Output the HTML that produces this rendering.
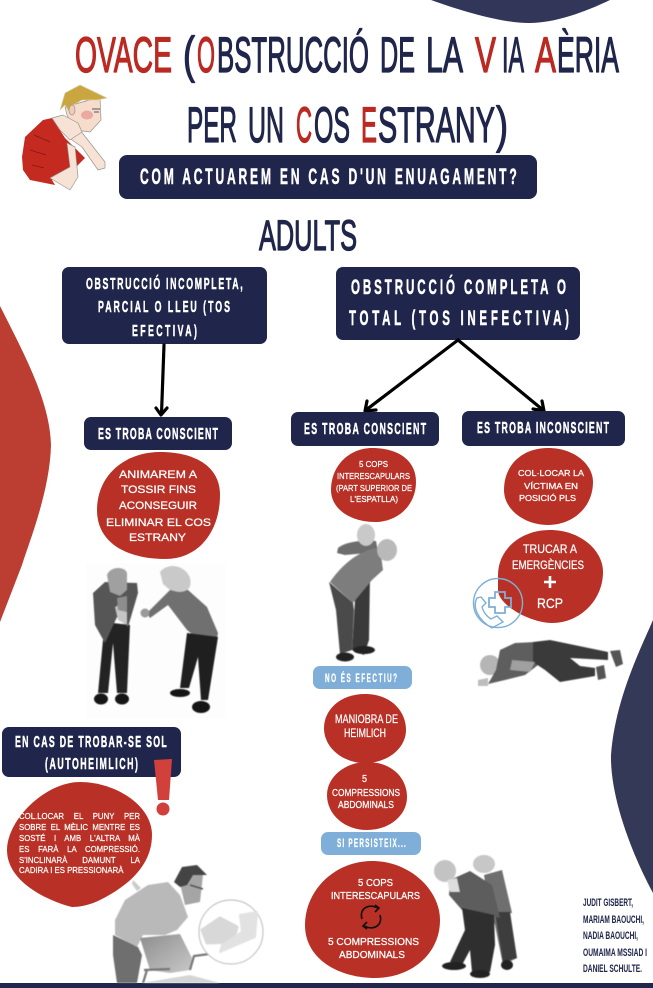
<!DOCTYPE html>
<html><head><meta charset="utf-8"><style>
html,body{margin:0;padding:0;background:#fff}
body{width:653px;height:988px;overflow:hidden;position:relative}
svg{position:absolute;left:0;top:0;filter:blur(.35px)}
text{font-family:"Liberation Sans",sans-serif;font-weight:700;white-space:pre}
.t{font-size:50px;fill:#20264b;font-weight:400;stroke:#20264b;stroke-width:1.300px;stroke-linejoin:round}
.t.r{fill:#bb2a22;stroke:#bb2a22}
.s{font-size:16px;fill:#fff;font-weight:700;stroke:#fff;stroke-width:.5px;stroke-linejoin:round}
.m{font-weight:400;fill:#fff;stroke:#fff;stroke-width:.25px}
.c{font-size:11px;font-weight:700;fill:#20264b}
.just{position:absolute;left:19px;width:121px;font:400 7.800px/10.800px "Liberation Sans",sans-serif;color:#fff;-webkit-text-stroke:.2px #fff;text-align:justify;text-align-last:justify;white-space:nowrap;filter:blur(.25px)}
</style></head><body>
<svg width="653" height="988" viewBox="0 0 653 988" xmlns="http://www.w3.org/2000/svg">
<defs><linearGradient id="ch" x1="0" y1="0" x2="1" y2="1"><stop offset="0" stop-color="#8d8d8d"/><stop offset="1" stop-color="#c8c8c8"/></linearGradient></defs>
<!-- background shapes -->
<path d="M431,0 C470,14 505,23 529,23 C555,23 585,12 610,0Z" fill="#323658"/>
<path d="M0,306 C22,350 50,400 51,445 C50,490 30,540 22,565 L0,622Z" fill="#bc3d32"/>
<path d="M653,620 C640,650 615,700 611,755 C610,800 635,860 653,893Z" fill="#353958"/>
<rect x="0" y="983" width="653" height="5" fill="#22264a"/>

<!-- title -->
<text class="t r" x="75" y="72" textLength="97" lengthAdjust="spacingAndGlyphs">OVACE</text>
<text class="t" x="183" y="72" textLength="12" lengthAdjust="spacingAndGlyphs">(</text>
<text class="t r" x="197" y="72" textLength="18" lengthAdjust="spacingAndGlyphs">O</text>
<text class="t" x="217" y="72" textLength="152" lengthAdjust="spacingAndGlyphs">BSTRUCCIÓ</text>
<text class="t" x="380" y="72" textLength="35" lengthAdjust="spacingAndGlyphs">DE</text>
<text class="t" x="426" y="72" textLength="37" lengthAdjust="spacingAndGlyphs">LA</text>
<text class="t r" x="475" y="72" textLength="21" lengthAdjust="spacingAndGlyphs">V</text>
<text class="t" x="502" y="72" textLength="22" lengthAdjust="spacingAndGlyphs">IA</text>
<text class="t r" x="535" y="72" textLength="21" lengthAdjust="spacingAndGlyphs">A</text>
<text class="t" x="557" y="72" textLength="62" lengthAdjust="spacingAndGlyphs">ÈRIA</text>
<text class="t" x="187" y="142" textLength="50" lengthAdjust="spacingAndGlyphs">PER</text>
<text class="t" x="248" y="142" textLength="36" lengthAdjust="spacingAndGlyphs">UN</text>
<text class="t r" x="296" y="142" textLength="16" lengthAdjust="spacingAndGlyphs">C</text>
<text class="t" x="314" y="142" textLength="36" lengthAdjust="spacingAndGlyphs">OS</text>
<text class="t r" x="361" y="142" textLength="16" lengthAdjust="spacingAndGlyphs">E</text>
<text class="t" x="378" y="142" textLength="117" lengthAdjust="spacingAndGlyphs">STRANY</text>
<text class="t" x="496" y="142" textLength="12" lengthAdjust="spacingAndGlyphs">)</text>

<!-- choking man -->
<g stroke="#9a948e" stroke-width=".7" stroke-linejoin="round">
<path d="M22,157 L25,137 L43,120 L52,118 L65,138 L85,158 L73,170 L52,180 L55,185 L30,180 L23,170Z" fill="#c42a20" stroke="none"/>
<path d="M34,135 L50,142 M30,150 L46,155 M32,165 L44,168" stroke="#7d1a14" fill="none"/>
<path d="M50,178 L70,190 L78,177 L75,147 L67,143 L70,167Z" fill="#f7e3d6"/>
<path d="M65,135 L80,130 L105,162 L105,168 L98,170 L82,147Z" fill="#f7e3d6"/>
<path d="M65,107 L100,97 L101,120 L90,132 L75,130 L67,115Z" fill="#f6dccb"/>
<path d="M52,118 L63,115 L78,123 L82,132 L70,140 L60,130Z" fill="#f7e3d6"/>
<path d="M60,110 L65,93 L80,85 L107,98 L97,100 L82,100 L73,105 L70,113 L65,105Z" fill="#c9a63f" stroke="#d8d0b0"/>
<ellipse cx="72" cy="110" rx="3" ry="5" fill="#f0cdb8"/>
</g>
<ellipse cx="87" cy="115" rx="6" ry="4.500" fill="#eba9a2"/>
<path d="M92,109 L100,109 M94,112 L99,112" stroke="#555" stroke-width="1"/>

<!-- subtitle -->
<rect x="119" y="155" width="418" height="44" rx="8" fill="#20264b"/>
<text class="s" style="font-size:22px" transform="translate(140 184) scale(.55 1)" textLength="685" lengthAdjust="spacing">COM ACTUAREM EN CAS D'UN ENUAGAMENT?</text>
<text class="t" style="font-size:43px" x="259" y="250" textLength="98" lengthAdjust="spacingAndGlyphs">ADULTS</text>

<!-- top boxes -->
<rect x="62" y="267" width="205" height="77" rx="7" fill="#20264b"/>
<text class="s" transform="translate(86 289) scale(.55 1)" textLength="285" lengthAdjust="spacing">OBSTRUCCIÓ INCOMPLETA,</text>
<text class="s" transform="translate(98 312) scale(.55 1)" textLength="240" lengthAdjust="spacing">PARCIAL O LLEU (TOS</text>
<text class="s" transform="translate(132 336) scale(.55 1)" textLength="118" lengthAdjust="spacing">EFECTIVA)</text>
<rect x="336" y="267" width="244" height="73" rx="7" fill="#20264b"/>
<text class="s" style="font-size:21px" transform="translate(351 294) scale(.55 1)" textLength="391" lengthAdjust="spacing">OBSTRUCCIÓ COMPLETA O</text>
<text class="s" style="font-size:21px" transform="translate(349 325) scale(.55 1)" textLength="400" lengthAdjust="spacing">TOTAL (TOS INEFECTIVA)</text>

<!-- arrows -->
<g stroke="#000" stroke-width="3.200" fill="none" stroke-linecap="round" stroke-linejoin="round">
<path d="M164,345 L161.500,414 M156,408 L161,415 L167,408"/>
<path d="M458,340 L366,410 M367,401 L365,411 L376,410"/>
<path d="M458,340 L543,410 M533,409 L544,411 L542,401"/>
</g>

<!-- condition boxes -->
<rect x="84" y="417" width="148" height="33" rx="7" fill="#20264b"/>
<text class="s" transform="translate(98 439) scale(.55 1)" textLength="218" lengthAdjust="spacing">ES TROBA CONSCIENT</text>
<rect x="291" y="412" width="148" height="34" rx="7" fill="#20264b"/>
<text class="s" transform="translate(304 434) scale(.55 1)" textLength="222" lengthAdjust="spacing">ES TROBA CONSCIENT</text>
<rect x="462" y="411" width="163" height="35" rx="7" fill="#20264b"/>
<text class="s" transform="translate(477 433) scale(.55 1)" textLength="240" lengthAdjust="spacing">ES TROBA INCONSCIENT</text>

<!-- red blobs -->
<g fill="#b93126">
<path d="M160,452 C193,452 220,465 220,495 C220,530 200,559 165,559 C130,559 97,545 97,510 C97,475 125,452 160,452Z"/>
<path d="M372,448 C398,448 416,460 416,482 C416,505 398,522 375,522 C352,522 331,510 331,490 C331,465 350,448 372,448Z"/>
<path d="M548,448 C575,448 593,465 593,482 C593,508 572,525 548,525 C525,525 504,510 504,490 C504,465 522,448 548,448Z"/>
<path d="M550,530 C580,530 603,550 603,572 C603,600 580,623 552,623 C530,623 498,605 498,590 L498,575 C498,550 520,530 550,530Z"/>
<path d="M365,694 C392,694 406,712 406,730 C406,748 388,763 365,763 C343,763 324,748 324,728 C324,710 340,694 365,694Z"/>
<path d="M367,762 C392,762 407,778 407,797 C407,815 390,830 367,830 C345,830 327,815 327,795 C327,777 345,762 367,762Z"/>
<path d="M372,861 C410,861 440,890 440,920 C440,955 410,978 375,978 C340,978 305,960 305,925 C305,890 335,861 372,861Z"/>
<path d="M80,782 C115,782 152,805 152,835 C152,870 120,890 100,900 C90,905 80,907 72,907 C55,903 7,885 7,850 C7,820 45,782 80,782Z"/>
</g>

<!-- blob labels -->
<g style="font-size:11px">
<text class="m" x="119" y="478" textLength="78" lengthAdjust="spacingAndGlyphs">ANIMAREM A</text>
<text class="m" x="121" y="493" textLength="75" lengthAdjust="spacingAndGlyphs">TOSSIR FINS</text>
<text class="m" x="119" y="509" textLength="78" lengthAdjust="spacingAndGlyphs">ACONSEGUIR</text>
<text class="m" x="106" y="526" textLength="105" lengthAdjust="spacingAndGlyphs">ELIMINAR EL COS</text>
<text class="m" x="129" y="541" textLength="57" lengthAdjust="spacingAndGlyphs">ESTRANY</text>
</g>
<g style="font-size:8.500px">
<text class="m" x="359" y="467" textLength="29" lengthAdjust="spacingAndGlyphs">5 COPS</text>
<text class="m" x="337" y="479" textLength="73" lengthAdjust="spacingAndGlyphs">INTERESCAPULARS</text>
<text class="m" x="336" y="491" textLength="76" lengthAdjust="spacingAndGlyphs">(PART SUPERIOR DE</text>
<text class="m" x="350" y="502" textLength="48" lengthAdjust="spacingAndGlyphs">L'ESPATLLA)</text>
<text class="m" x="518" y="476" textLength="66" lengthAdjust="spacingAndGlyphs">COL·LOCAR LA</text>
<text class="m" x="524" y="489" textLength="54" lengthAdjust="spacingAndGlyphs">VÍCTIMA EN</text>
<text class="m" x="519" y="501" textLength="57" lengthAdjust="spacingAndGlyphs">POSICIÓ PLS</text>
</g>
<g style="font-size:12px">
<text class="m" x="523" y="553" textLength="54" lengthAdjust="spacingAndGlyphs">TRUCAR A</text>
<text class="m" x="512" y="569" textLength="72" lengthAdjust="spacingAndGlyphs">EMERGÈNCIES</text>
<text class="m" style="font-size:14px" x="537" y="608" textLength="26" lengthAdjust="spacingAndGlyphs">RCP</text>
<text class="m" x="335" y="723" textLength="63" lengthAdjust="spacingAndGlyphs">MANIOBRA DE</text>
<text class="m" x="344" y="737" textLength="42" lengthAdjust="spacingAndGlyphs">HEIMLICH</text>
</g>
<path d="M550,576 V588 M544,582 H556" stroke="#fff" stroke-width="2.600"/>
<g style="font-size:10px">
<text class="m" x="362" y="782" textLength="5" lengthAdjust="spacingAndGlyphs">5</text>
<text class="m" x="332" y="796" textLength="68" lengthAdjust="spacingAndGlyphs">COMPRESSIONS</text>
<text class="m" x="338" y="808" textLength="56" lengthAdjust="spacingAndGlyphs">ABDOMINALS</text>
<text class="m" x="358" y="886" textLength="35" lengthAdjust="spacingAndGlyphs">5 COPS</text>
<text class="m" x="331" y="899" textLength="89" lengthAdjust="spacingAndGlyphs">INTERESCAPULARS</text>
<text class="m" x="328" y="945" textLength="91" lengthAdjust="spacingAndGlyphs">5 COMPRESSIONS</text>
<text class="m" x="339" y="958" textLength="66" lengthAdjust="spacingAndGlyphs">ABDOMINALS</text>
</g>

<!-- refresh icon -->
<g fill="none" stroke="#111" stroke-width="1.700">
<path d="M362,919 C359,909 368,903 378,908"/>
<path d="M380,915 C383,925 374,931 364,926"/>
<path d="M375,905 L379,908 L375,912" />
<path d="M367,922 L363,926 L367,929" />
</g>

<!-- phone icon -->
<g fill="none" stroke="#7fafd8" stroke-width="1.400">
<circle cx="498" cy="603" r="24.500"/>
<path d="M495,592 H505 V598 H511 V607 H505 V613 H495 V607 H489 V598 H495Z" stroke-width="1.800"/>
<path d="M477,598 C472,607 478,620 492,628 L503,622 L497,616 L491,619 C486,616 483,611 482,607 L486,603 L481,597Z"/>
</g>

<!-- pills -->
<rect x="313" y="666" width="99" height="23" rx="7" fill="#7fafd8"/>
<text class="s" style="font-size:11.500px;stroke-width:.3px" transform="translate(325 682) scale(.55 1)" textLength="131" lengthAdjust="spacing">NO ÉS EFECTIU?</text>
<rect x="321" y="832" width="100" height="23" rx="7" fill="#7fafd8"/>
<text class="s" style="font-size:11.500px;stroke-width:.3px" transform="translate(337 847) scale(.55 1)" textLength="125" lengthAdjust="spacing">SI PERSISTEIX...</text>

<!-- autoheimlich -->
<rect x="2" y="727" width="179" height="50" rx="7" fill="#20264b"/>
<text class="s" transform="translate(15 747) scale(.55 1)" textLength="276" lengthAdjust="spacing">EN CAS DE TROBAR-SE SOL</text>
<text class="s" transform="translate(45 769) scale(.55 1)" textLength="169" lengthAdjust="spacing">(AUTOHEIMLICH)</text>
<path d="M154,760 L172,759 L169,800 L158,800Z" fill="#d2403c"/>
<circle cx="163" cy="809" r="6.500" fill="#d2403c"/>

<!-- couple 1 -->
<rect x="86" y="563" width="139" height="155" fill="#fdfdfd"/>
<g style="filter:blur(.5px)">
<path d="M103,640 L113,623 L130,625 L127,693 L117,693 L113,643 L108,693 L98,693Z" fill="#232323"/>
<path d="M93,593 L105,582 L137,583 L138,593 L128,627 L117,617 L105,643 L95,625Z" fill="#565656"/>
<path d="M115,607 L127,600 L127,625 L118,620Z" fill="#c5c5c5"/>
<path d="M107,575 C110,566 125,566 127,573 L127,590 L120,596 L110,592Z" fill="#a0a0a0"/>
<path d="M117,598 L127,596 L127,612 L118,610Z" fill="#8d8d8d"/>
<ellipse cx="101" cy="699" rx="7" ry="5.500" fill="#151515"/><ellipse cx="122" cy="699" rx="7" ry="5.500" fill="#151515"/>
<path d="M170,590 L188,590 L207,607 L218,633 L217,638 L202,642 L187,630 L168,605 L150,618 L147,613 L163,597Z" fill="#707070"/>
<circle cx="145" cy="613" r="4.500" fill="#9a9a9a"/>
<path d="M187,633 L218,637 L208,700 L201,700 L198,657 L189,688 L180,688Z" fill="#1f1f1f"/>
<path d="M160,572 C168,562 185,565 190,578 C192,588 188,592 178,592 L170,590 L163,584Z" fill="#c9c9c9"/>
<ellipse cx="180" cy="693" rx="10" ry="4" fill="#151515"/><ellipse cx="201" cy="707" rx="9" ry="6" fill="#151515"/>
</g>

<!-- figure 2 -->
<g style="filter:blur(.5px)">
<path d="M338,548 C345,542 360,540 376,541 L378,552 L345,555 L337,553Z" fill="#6d6d6d"/>
<ellipse cx="366" cy="535" rx="9" ry="11" fill="#c9c9c9"/>
<path d="M355,600 L370,575 L369,640 L364,655 L352,650Z" fill="#3a3a3a"/>
<path d="M330,582 C345,560 365,548 380,548 L383,570 L372,580 L353,603Z" fill="#7d7d7d"/>
<ellipse cx="387" cy="550" rx="10" ry="11" fill="#b9b9b9"/>
<path d="M329,582 L353,603 L354,610 L352,650 L340,654 L336,610Z" fill="#4a4a4a"/>
<ellipse cx="345" cy="657" rx="9" ry="4.500" fill="#222"/><ellipse cx="364" cy="650" rx="11" ry="4" fill="#222"/>
</g>

<!-- lying figure -->
<g style="filter:blur(.5px)">
<circle cx="490" cy="665" r="10" fill="#b5b5b5"/>
<path d="M478,680 L488,678 L488,686 L478,686Z" fill="#bdbdbd"/>
<path d="M500,650 L515,643 L536,642 L538,665 L525,675 L505,680 L488,684 L496,670Z" fill="#5e5e5e"/>
<path d="M533,642 L550,640 L608,652 L608,660 L570,658 L580,666 L595,668 L595,676 L560,682 L545,670 L533,662Z" fill="#3a3a3a"/>
<path d="M610,651 L620,650 L623,664 L616,667Z" fill="#555"/>
<path d="M596,667 L604,665 L606,678 L598,680Z" fill="#555"/>
<path d="M512,660 L535,662 L530,672 L510,670Z" fill="#a0a0a0"/>
</g>

<!-- figure 3 -->
<g style="filter:blur(.5px)">
<path d="M484,875 L502,870 L512,913 L500,915 L517,958 L503,965 L495,925 L490,912Z" fill="#6f6f6f"/>
<path d="M495,912 L510,912 L517,958 L503,962Z" fill="#3d3d3d"/>
<ellipse cx="484" cy="864" rx="11" ry="9" fill="#c7c7c7"/>
<path d="M450,880 L470,871 L492,885 L500,918 L488,915 L462,910 L449,895Z" fill="#5d5d5d"/>
<path d="M462,908 L494,915 L495,945 L490,972 L472,972 L470,950 L462,965 L450,962 L465,930Z" fill="#2f2f2f"/>
<ellipse cx="445" cy="871" rx="11" ry="11" fill="#c3c3c3"/>
<path d="M447,880 L457,878 L460,892 L450,892Z" fill="#ddd"/>
<ellipse cx="454" cy="966" rx="12" ry="4" fill="#222"/><ellipse cx="480" cy="974" rx="10" ry="4" fill="#222"/><ellipse cx="507" cy="965" rx="6" ry="5" fill="#222"/>
</g>

<!-- autoheimlich man -->
<g style="filter:blur(.5px)">
<path d="M133,880 L141,888 L137,891 L132,884Z" fill="#ccc"/>
<path d="M113,935 L138,947 L142,955 L137,983 L117,983 L113,955Z" fill="#6f6f6f"/>
<path d="M115,920 L125,900 L148,885 L168,882 L180,895 L188,917 L177,930 L165,935 L143,935 L137,947 L115,935Z" fill="#b9b9b9"/>
<path d="M178,875 L203,875 L200,902 L185,905Z" fill="#a5a5a5"/>
<path d="M174,882 L182,867 L197,865 L207,875 L193,875 L187,885 L180,887Z" fill="#444"/>
<path d="M190,885 L203,889" stroke="#555" stroke-width="1.500"/>
<path d="M140,938 L180,934 L192,958 L190,970 L170,973 L150,970Z" fill="url(#ch)"/>
<path d="M144,970 L170,969 M147,970 L143,983 M190,970 L194,956 L217,953" fill="none" stroke="#777" stroke-width="2.200"/>
<path d="M142,983 L190,975 L220,983Z" fill="#d5d5d5"/>
<circle cx="231" cy="932" r="32" fill="#fff" stroke="#c5c5c5" stroke-width="1.200"/>
<path d="M202,930 L220,918 L237,927 L233,942 L207,943Z" fill="#d8d8d8" stroke="#d8d8d8" stroke-width="3" stroke-linejoin="round"/>
<path d="M240,915 L257,912 L255,937 L220,952 L222,945 L242,932Z" fill="#e2e2e2" stroke="#e2e2e2" stroke-width="2" stroke-linejoin="round"/>
</g>

<!-- credits -->
<text class="c" x="583" y="906" textLength="50" lengthAdjust="spacingAndGlyphs">JUDIT GISBERT,</text>
<text class="c" x="583" y="923" textLength="61" lengthAdjust="spacingAndGlyphs">MARIAM BAOUCHI,</text>
<text class="c" x="583" y="939" textLength="55" lengthAdjust="spacingAndGlyphs">NADIA BAOUCHI,</text>
<text class="c" x="583" y="956" textLength="64" lengthAdjust="spacingAndGlyphs">OUMAIMA MSSIAD I</text>
<text class="c" x="583" y="972" textLength="59" lengthAdjust="spacingAndGlyphs">DANIEL SCHULTE.</text>
</svg>
<div class="just" style="top:812px">COL.LOCAR EL PUNY PER</div>
<div class="just" style="top:823px">SOBRE EL MÈLIC MENTRE ES</div>
<div class="just" style="top:834px">SOSTÉ I AMB L'ALTRA MÀ</div>
<div class="just" style="top:844.500px">ES FARÀ LA COMPRESSIÓ.</div>
<div class="just" style="top:855.500px">S'INCLINARÀ DAMUNT LA</div>
<div class="just" style="top:866px;text-align-last:left">CADIRA I ES PRESSIONARÀ</div>
</body></html>
